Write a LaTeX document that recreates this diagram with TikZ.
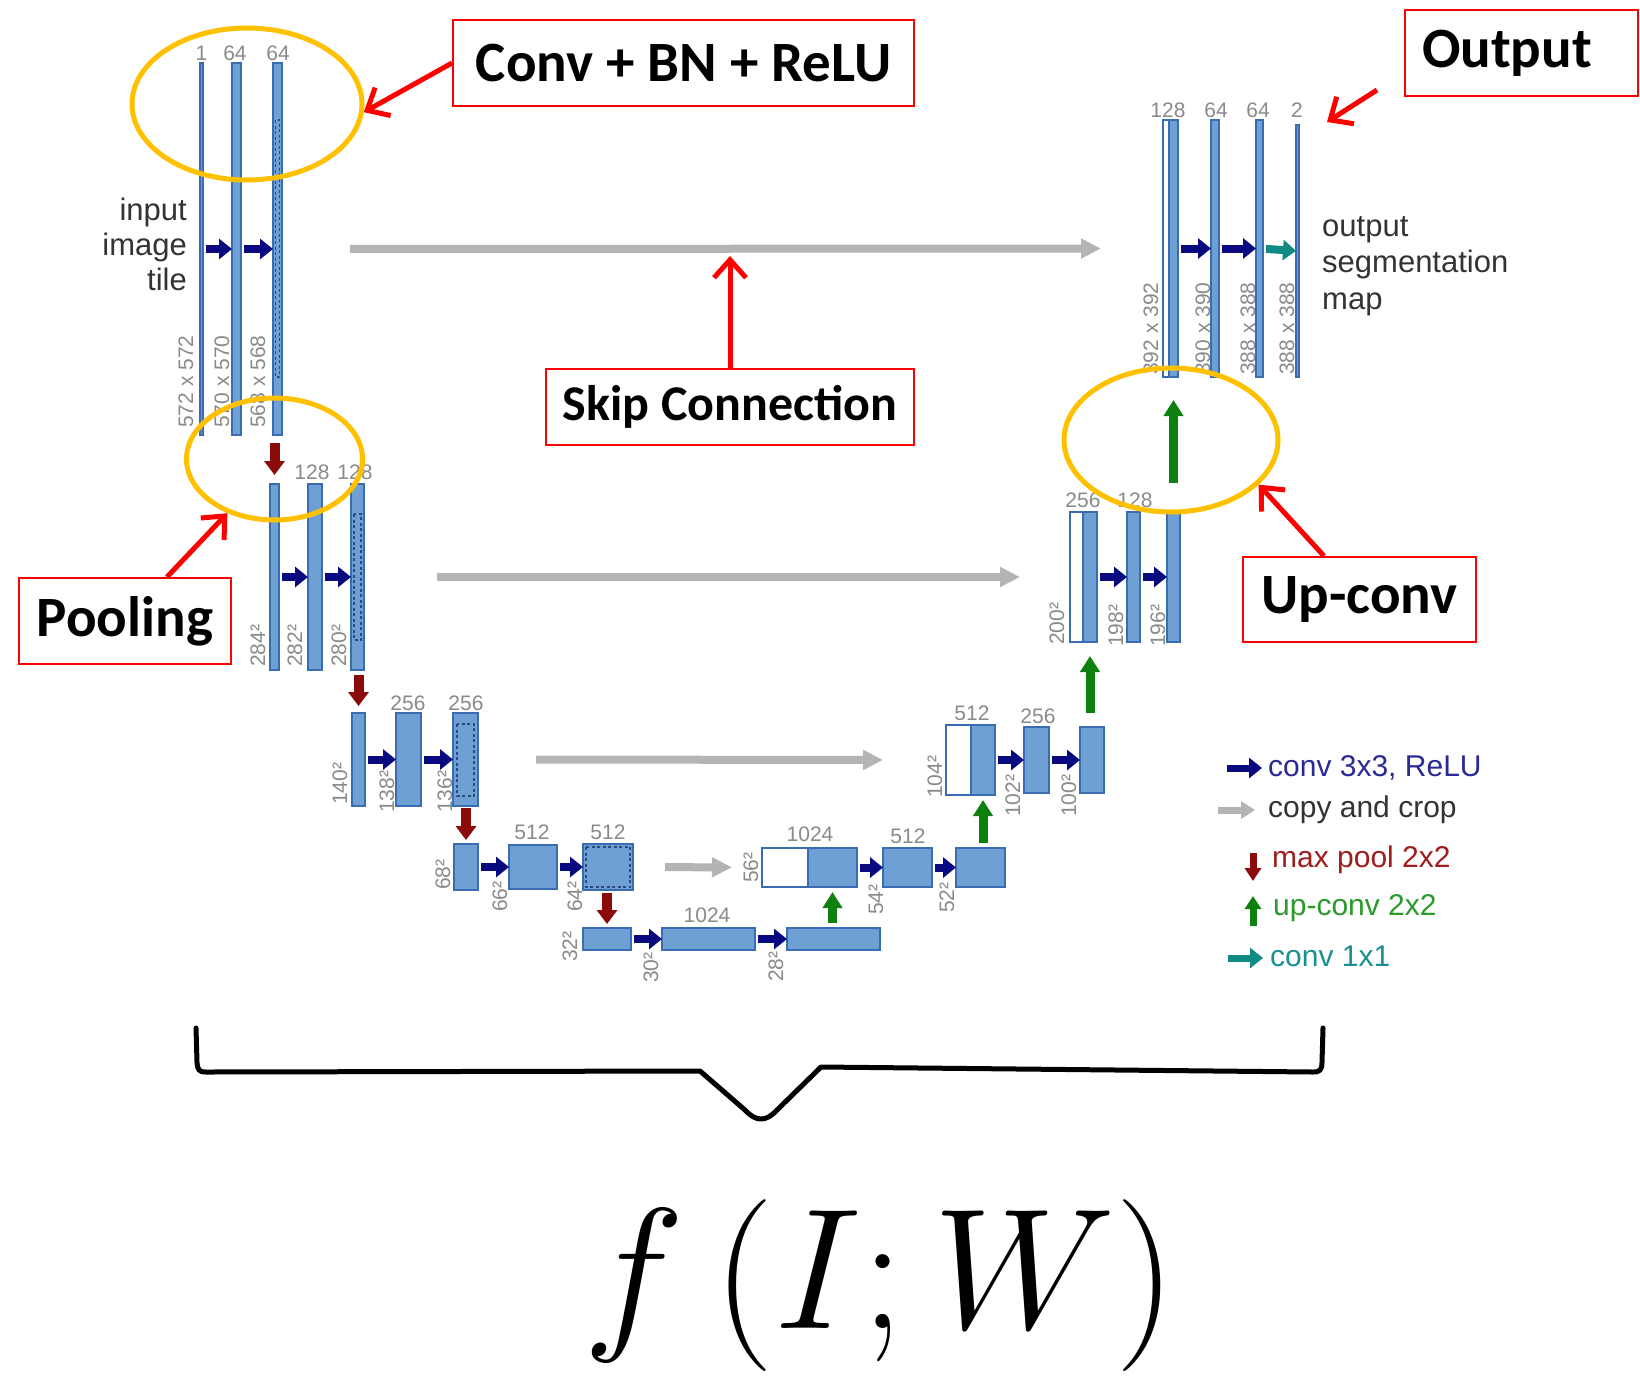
\documentclass[tikz,border=0pt]{standalone}
\usepackage{fix-cm}
\usepackage[no-math]{fontspec}
\setmainfont{Liberation Sans}
\newfontfamily\calib{Carlito}
\usetikzlibrary{arrows.meta,shapes.geometric}
\definecolor{barfill}{HTML}{6FA0D4}
\definecolor{barline}{HTML}{3A6CB3}
\definecolor{convc}{HTML}{0A0A80}
\definecolor{poolc}{HTML}{8B0A0A}
\definecolor{upc}{HTML}{0E800E}
\definecolor{tealc}{HTML}{108A84}
\definecolor{copyc}{HTML}{B4B4B4}
\definecolor{labc}{HTML}{8A8A8A}
\definecolor{gold}{HTML}{FFC000}
\definecolor{txtc}{HTML}{333333}
\definecolor{lgconv}{HTML}{2A2A96}
\definecolor{lgpool}{HTML}{9E1E1E}
\definecolor{lgup}{HTML}{2A9A2A}
\definecolor{lgteal}{HTML}{1A9090}
\newcommand\unetbar[6][barfill]{\node[barnode, fill=#1, minimum width={(#4-#3)*1pt}, minimum height={(#6-#5)*1pt}] (#2) at ({(#3+#4)/2},{(#5+#6)/2}) {};}
\tikzset{
  barnode/.style={rectangle, draw=barline, line width=1.3pt, inner sep=0pt, outer sep=0pt},
  crop/.style={draw=barline!70!black, line width=1.6pt, dash pattern=on 3pt off 2.5pt},
  conv/.style={draw=convc, line width=8pt, -{Triangle[length=13pt,width=20pt]}, shorten <=3pt},
  conva/.style={draw=tealc, line width=8pt, -{Triangle[length=13pt,width=20pt]}, shorten <=3pt},
  copyarr/.style={draw=copyc, line width=8pt, -{Triangle[length=20pt,width=19pt]}},
  pool/.style={draw=poolc, line width=10pt, -{Triangle[length=14pt,width=20pt]}},
  upconv/.style={draw=upc, line width=9pt, -{Triangle[length=16pt,width=19pt]}},
  chlab/.style={text=labc, inner sep=0pt, font=\fontsize{21}{24}\selectfont},
  dimlab/.style={text=labc, inner sep=0pt, font=\fontsize{21}{24}\selectfont, rotate=90, anchor=west},
  gold ellipse/.style={ellipse, draw=gold, line width=5pt, inner sep=0pt},
  redbox/.style={rectangle, draw=red, line width=2pt, inner sep=0pt, font=\calib\bfseries\fontsize{57}{60}\selectfont, text=black},
  annot/.style={draw=red, line width=5pt, -{Straight Barb[length=18pt,width=32pt]}},
  legtext/.style={anchor=west, inner sep=0pt, font=\fontsize{30}{34}\selectfont},
  brace/.style={draw=black, line width=5pt, line join=round, line cap=round}
}
\begin{document}
\begin{tikzpicture}[x=1pt,y=-1pt]
\useasboundingbox (0,0) rectangle (1640,1384);
\fill[white] (0,0) rectangle (1640,1384);
% ---- bars
\unetbar{L1a}{200}{203}{63}{435}
\unetbar{L1b}{232}{241}{63}{435}
\unetbar{L1c}{273}{282}{63}{435}
\unetbar{L2a}{270}{279}{484}{670}
\unetbar{L2b}{308}{322}{484}{670}
\unetbar{L2c}{351}{364}{484}{670}
\unetbar{L3a}{352}{365}{713}{806}
\unetbar{L3b}{396}{421}{713}{806}
\unetbar{L3c}{453}{478}{713}{806}
\unetbar{L4a}{454}{478}{844}{890}
\unetbar{L4b}{509}{557}{845}{889}
\unetbar{L4c}{583}{633}{844}{890}
\unetbar{L5a}{583}{631}{928}{950}
\unetbar{L5b}{662}{755}{928}{950}
\unetbar{L5c}{787}{880}{928}{950}
\unetbar[white]{R4w}{762}{808}{848}{887}
\unetbar{R4a}{808}{857}{848}{887}
\unetbar{R4b}{883}{932}{848}{887}
\unetbar{R4c}{956}{1005}{848}{887}
\unetbar[white]{R3w}{946}{971}{725}{795}
\unetbar{R3a}{971}{995}{725}{795}
\unetbar{R3b}{1024}{1049}{727}{793}
\unetbar{R3c}{1080}{1104}{727}{793}
\unetbar[white]{R2w}{1070}{1083}{512}{642}
\unetbar{R2a}{1083}{1097}{512}{642}
\unetbar{R2b}{1127}{1140}{512}{642}
\unetbar{R2c}{1167}{1180}{512}{642}
\unetbar[white]{R1w}{1163}{1169}{120}{377}
\unetbar{R1a}{1169}{1178}{120}{377}
\unetbar{R1b}{1211}{1219}{120}{377}
\unetbar{R1c}{1256}{1263}{120}{377}
\unetbar{R1d}{1296}{1299}{125}{377}
% ---- crop regions
\draw[crop] (275.5,120) rectangle (279.5,377);
\draw[crop] (354,514) rectangle (361,640);
\draw[crop] (457,724) rectangle (474,796);
\draw[crop] (586,847) rectangle (630,887);
% ---- conv arrows
\draw[conv] (L1a) -- (L1b);
\draw[conv] (L1b) -- (L1c);
\draw[conv] (L2a) -- (L2b);
\draw[conv] (L2b) -- (L2c);
\draw[conv] (L3a) -- (L3b);
\draw[conv] (L3b) -- (L3c);
\draw[conv] (L4a) -- (L4b);
\draw[conv] (L4b) -- (L4c);
\draw[conv] (L5a) -- (L5b);
\draw[conv] (L5b) -- (L5c);
\draw[conv] (R4a) -- (R4b);
\draw[conv] (R4b) -- (R4c);
\draw[conv] (R3a) -- (R3b);
\draw[conv] (R3b) -- (R3c);
\draw[conv] (R2a) -- (R2b);
\draw[conv] (R2b) -- (R2c);
\draw[conv] (R1a) -- (R1b);
\draw[conv] (R1b) -- (R1c);
\draw[conva] (R1c) -- (R1d);
% ---- copy arrows
\draw[copyarr, shorten <=68pt, shorten >=62pt] (L1c.east) -- (R1w.west);
\draw[copyarr, shorten <=73pt, shorten >=50pt] (L2c.east) -- (R2w.west);
\draw[copyarr, shorten <=58pt, shorten >=63pt] (L3c.east) -- (R3w.west);
\draw[copyarr, shorten <=32pt, shorten >=30pt] (L4c.east) -- (R4w.west);
% ---- pooling arrows
\draw[pool, shorten <=8pt, shorten >=9pt] (L2a |- L1c.south) -- (L2a.north);
\draw[pool, shorten <=5pt, shorten >=7pt] (L3a |- L2c.south) -- (L3a.north);
\draw[pool, shorten <=2pt, shorten >=4pt] (L4a |- L3c.south) -- (L4a.north);
\draw[pool, shorten <=3pt, shorten >=4pt] (L5a |- L4c.south) -- (L5a.north);
% ---- up-conv arrows
\draw[upconv, shorten <=5pt, shorten >=5pt] (R4a |- L5c.north) -- (R4a.south);
\draw[upconv, shorten <=5pt, shorten >=5pt] (R3a |- R4c.north) -- (R3a.south);
\draw[upconv, shorten <=14pt, shorten >=14pt] (R2a |- R3c.north) -- (R2a.south);
\draw[upconv, shorten <=29pt, shorten >=23pt] (R1a |- R2c.north) -- (R1a.south);
% ---- channel labels
\node[chlab] (cL1a) at (201.5,53) {1};
\node[chlab] (cL1b) at (235,53) {64};
\node[chlab] (cL1c) at (278,53) {64};
\node[chlab] (cL2b) at (312,472) {128};
\node[chlab] (cL2c) at (355,472) {128};
\node[chlab] (cL3b) at (408,703) {256};
\node[chlab] (cL3c) at (466,703) {256};
\node[chlab] (cL4b) at (532,832) {512};
\node[chlab] (cL4c) at (608,832) {512};
\node[chlab] (cL5b) at (707,915) {1024};
\node[chlab] (cR4a) at (810,834) {1024};
\node[chlab] (cR4b) at (908,836) {512};
\node[chlab] (cR3a) at (972,713) {512};
\node[chlab] (cR3b) at (1038,716) {256};
\node[chlab] (cR2a) at (1083,500) {256};
\node[chlab] (cR2b) at (1135,500) {128};
\node[chlab] (cR1a) at (1168,110) {128};
\node[chlab] (cR1b) at (1216,110) {64};
\node[chlab] (cR1c) at (1258,110) {64};
\node[chlab] (cR1d) at (1297,110) {2};
% ---- dimension labels
\node[dimlab] (dL1a) at (186,428) {572 x 572};
\node[dimlab] (dL1b) at (222,428) {570 x 570};
\node[dimlab] (dL1c) at (258,428) {568 x 568};
\node[dimlab] (dL2a) at (258,667) {284²};
\node[dimlab] (dL2b) at (295,667) {282²};
\node[dimlab] (dL2c) at (339,667) {280²};
\node[dimlab] (dL3a) at (340,805) {140²};
\node[dimlab] (dL3b) at (387,813) {138²};
\node[dimlab] (dL3c) at (445,813) {136²};
\node[dimlab] (dL4a) at (443,890) {68²};
\node[dimlab] (dL4b) at (500,912) {66²};
\node[dimlab] (dL4c) at (575,912) {64²};
\node[dimlab] (dL5a) at (570,962) {32²};
\node[dimlab] (dL5b) at (651,983) {30²};
\node[dimlab] (dL5c) at (776,982) {28²};
\node[dimlab] (dR4a) at (751,883) {56²};
\node[dimlab] (dR4b) at (876,915) {54²};
\node[dimlab] (dR4c) at (947,913) {52²};
\node[dimlab] (dR3a) at (935,798) {104²};
\node[dimlab] (dR3b) at (1013,817) {102²};
\node[dimlab] (dR3c) at (1069,817) {100²};
\node[dimlab] (dR2a) at (1057,645) {200²};
\node[dimlab] (dR2b) at (1116,647) {198²};
\node[dimlab] (dR2c) at (1158,647) {196²};
\node[dimlab] (dR1a) at (1151,375) {392 x 392};
\node[dimlab] (dR1b) at (1203,375) {390 x 390};
\node[dimlab] (dR1c) at (1248,375) {388 x 388};
\node[dimlab] (dR1d) at (1287,375) {388 x 388};
% ---- side texts
\node[anchor=east, align=right, inner sep=0pt, text=txtc, font=\fontsize{31}{35}\selectfont] (intext) at (187,244) {input\\image\\tile};
\node[anchor=west, align=left, inner sep=0pt, text=txtc, font=\fontsize{31}{36.5}\selectfont] (outtext) at (1322,266) {output\\segmentation\\map};
% ---- legend
\coordinate (lg1a) at (1227,768); \coordinate (lg1b) at (1262,768);
\draw[conv, shorten <=0pt, line width=7pt] (lg1a) -- (lg1b);
\node[legtext, text=lgconv] (lgt1) at (1268,768) {conv 3x3, ReLU};
\coordinate (lg2a) at (1218,810); \coordinate (lg2b) at (1255,810);
\draw[copyarr, line width=7pt, -{Triangle[length=14pt,width=17pt]}] (lg2a) -- (lg2b);
\node[legtext, text=txtc] (lgt2) at (1268,810) {copy and crop};
\coordinate (lg3a) at (1253,853); \coordinate (lg3b) at (1253,881);
\draw[pool, line width=7pt, -{Triangle[length=13pt,width=16pt]}] (lg3a) -- (lg3b);
\node[legtext, text=lgpool] (lgt3) at (1272,860) {max pool 2x2};
\coordinate (lg4a) at (1253,926); \coordinate (lg4b) at (1253,896);
\draw[upconv, line width=7pt, -{Triangle[length=13pt,width=16pt]}] (lg4a) -- (lg4b);
\node[legtext, text=lgup] (lgt4) at (1273,908) {up-conv 2x2};
\coordinate (lg5a) at (1228,958); \coordinate (lg5b) at (1263,958);
\draw[conva, shorten <=0pt, line width=7pt] (lg5a) -- (lg5b);
\node[legtext, text=lgteal] (lgt5) at (1270,956) {conv 1x1};
% ---- gold ellipses
\node[gold ellipse, minimum width=230pt, minimum height=152pt] (E1) at (247,104) {};
\node[gold ellipse, minimum width=176pt, minimum height=122pt] (E2) at (274.5,459) {};
\node[gold ellipse, minimum width=214pt, minimum height=144pt] (E3) at (1171,440) {};
% ---- red boxes
\node[redbox, minimum width=461pt, minimum height=86pt] (convbox) at (683.5,63) {Conv + BN + ReLU};
\node[redbox, minimum width=233pt, minimum height=86pt, text width=199pt, align=left] (outbox) at (1521.5,53) {Output};
\node[redbox, minimum width=368pt, minimum height=76pt, font=\calib\bfseries\fontsize{50}{54}\selectfont] (skipbox) at (730,407) {Skip Connection};
\node[redbox, minimum width=212pt, minimum height=86pt] (poolbox) at (125,621) {Pooling};
\node[redbox, minimum width=233pt, minimum height=85pt] (upbox) at (1359.5,599.5) {Up-conv};
% ---- annotation arrows
\draw[annot] (convbox.west) -- (E1.-4);
\coordinate (skiptip) at (730,256);
\draw[annot] (skipbox.north) -- (skiptip);
\draw[annot] ([xshift=42pt]poolbox.north) -- (E2.229);
\draw[annot] ([xshift=-35.5pt]upbox.north) -- (E3.-27);
\coordinate (outa) at (1377,90);
\coordinate (outb) at (1327,122);
\draw[annot] (outa) -- (outb);
% ---- brace
\draw[brace] (196,1028) -- (197,1062) .. controls (197.5,1070) and (199,1072) .. (206,1072)
  -- (700,1071) -- (745,1110) .. controls (756,1122) and (766,1122) .. (777,1110)
  -- (821,1067) -- (1313,1072) .. controls (1320,1072) and (1322,1070) .. (1322,1062) -- (1323,1028);
% ---- formula
\node[anchor=base, inner sep=0pt] (fIW) at (880,1328) {\fontsize{172}{172}\selectfont $f\,(I{;}\,W)$};
\end{tikzpicture}
\end{document}
